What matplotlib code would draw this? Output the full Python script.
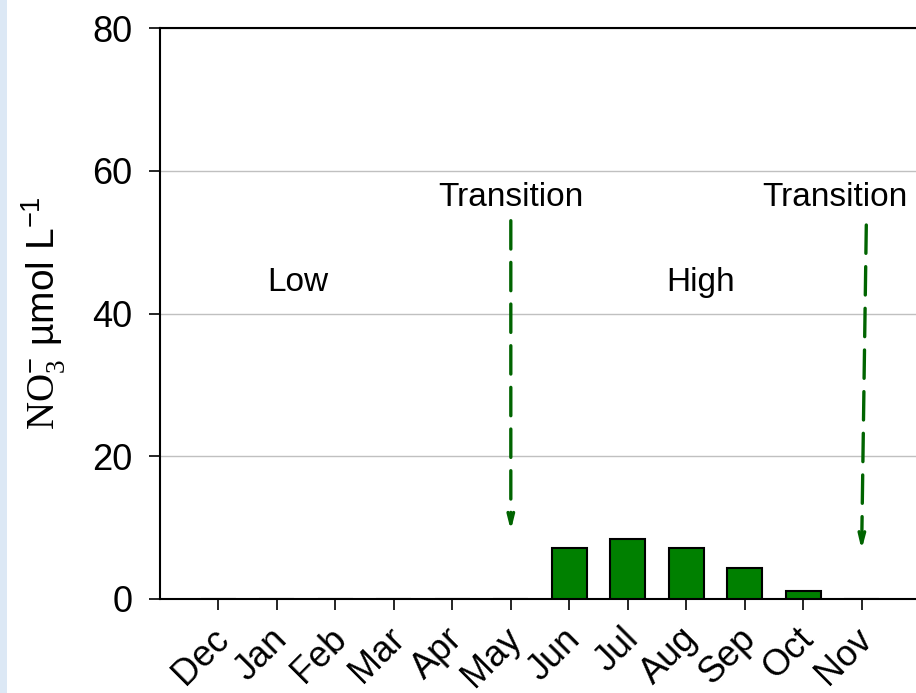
import numpy as np
import matplotlib
matplotlib.use("Agg")
import matplotlib.pyplot as plt
import matplotlib.transforms as mtransforms
from matplotlib.patches import Rectangle

# data
months = ["Dec", "Jan", "Feb", "Mar", "Apr", "May",
          "Jun", "Jul", "Aug", "Sep", "Oct", "Nov"]
no3 = [0, 0, 0, 0, 0, 0, 7.1, 8.45, 7.1, 4.4, 1.15, 0]
yticks = [0, 20, 40, 60, 80]

# annotations: (x, y) in data units
season_labels = ["Low", "High"]
season_pos = [(1.35, 44.3), (8.25, 44.3)]
trans_text_pos = [(5.0, 56.3), (10.55, 56.3)]
arrow_start = [(5.0, 53.0), (11.08, 52.4)]
arrow_end = [(5.0, 9.6), (11.0, 6.9)]

plt.rcParams["font.family"] = ["Liberation Sans", "DejaVu Sans"]
plt.rcParams["mathtext.fontset"] = "custom"
plt.rcParams["mathtext.rm"] = "Liberation Serif"
plt.rcParams["mathtext.sf"] = "Liberation Sans"

fig = plt.figure(figsize=(9.16, 6.93), dpi=100)
fig.patches.append(Rectangle((0, 0), 7 / 916, 1, transform=fig.transFigure,
                             facecolor="#dce8f5", edgecolor="none", zorder=0))

ax = fig.add_axes([160 / 916, 94 / 693, 1 - 160 / 916, 571 / 693])
x = np.arange(len(months))
ax.bar(x, no3, width=0.6, color="#008000", edgecolor="black", linewidth=1.5, zorder=3)

ax.set_xlim(-1.0, 11.93)
ax.set_ylim(0, 80)
ax.set_yticks(yticks)
ax.set_xticks(x)
ax.tick_params(axis="y", labelsize=26, length=8, width=1.2, direction="out", pad=12)
ax.tick_params(axis="x", length=8, width=1.2, direction="out", pad=8)
ax.set_xticklabels(months, rotation=45, ha="right", rotation_mode="anchor", fontsize=26)
shift = mtransforms.ScaledTranslation(-7 / 100, 0, fig.dpi_scale_trans)
for lbl in ax.get_xticklabels():
    lbl.set_transform(lbl.get_transform() + shift)
ax.yaxis.grid(True, color="#c0c0c0", linewidth=1)
ax.set_axisbelow(True)
for side in ["left", "bottom", "top"]:
    ax.spines[side].set_linewidth(1.5)
ax.spines["right"].set_visible(False)

ax.set_ylabel(r"$\mathrm{NO}_3^{\mathsf{-}}$ µmol L$^{\mathsf{-1}}$", fontsize=28)
ax.yaxis.set_label_coords(-92 / 756, 0.5)

for lab, (lx, ly) in zip(season_labels, season_pos):
    ax.text(lx, ly, lab, fontsize=24, ha="center", va="center")
for (tx, ty), s, e in zip(trans_text_pos, arrow_start, arrow_end):
    ax.text(tx, ty, "Transition", fontsize=24, ha="center", va="center")
    ax.annotate("", xy=e, xytext=s,
                arrowprops=dict(arrowstyle="->,head_width=0.2,head_length=0.8",
                                linestyle=(0, (8.5, 4)), lw=2.4, color="#006400",
                                shrinkA=0, shrinkB=0))

fig.savefig("out.png", dpi=100)
